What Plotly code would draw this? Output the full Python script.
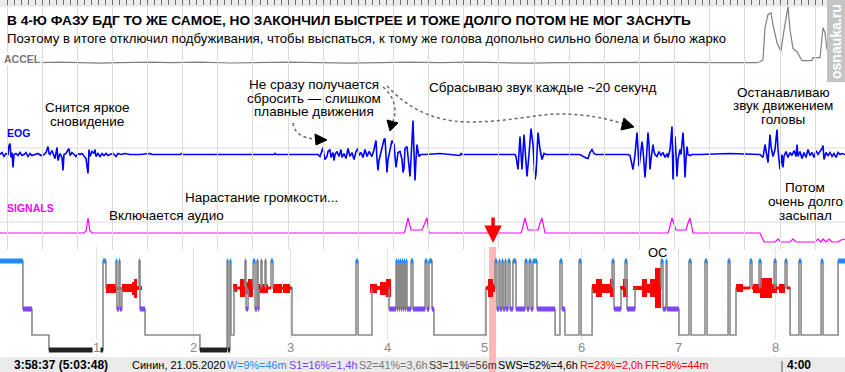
import plotly.graph_objects as go

W, H = 845, 372
FONT = "Liberation Sans, Arial, sans-serif"

# ================= DATA =================
# Top window: x in display samples (~7 samples per second)
accel_points = [(40, 0), (60, 0.5), (80, 0), (100, -0.5), (120, 0), (150, 0.5), (170, 0), (200, 0.5),
                (230, -0.3), (260, 0), (290, 0.5), (320, 0), (350, -0.5), (380, 0), (410, 0.5), (440, 0),
                (470, 0.5), (500, 0), (530, -0.4), (560, 0), (600, 0.3), (640, 0), (680, 0.4), (720, 0),
                (757, 0), (760, 1), (763, 3), (765, 35), (768, 48), (771, 50), (773, 38), (777, 20),
                (781, 11), (783, 26), (787, 53), (788, 56), (790, 33), (793, 14), (797, 11), (802, 2),
                (812, 2), (813, 5), (820, 5), (822, 26), (823, 35), (825, 30), (827, 13)]

eog_points = [
    (0, 0), (2, 2), (4, -2), (6, 1), (8, 0), (9, 9), (10, 11), (11, -3), (12, 2), (13, -13), (14, 0), (16, 1),
    (18, -1), (20, 2), (22, -1), (24, 0), (26, 2), (28, -2), (30, 1), (32, -1), (35, 0), (38, 1), (41, -1),
    (44, 0), (46, 2), (48, 8), (49, 1), (50, 0), (52, 4), (54, -2), (55, -4), (57, 7), (58, -6), (60, 1),
    (62, -3), (63, -16), (64, 0), (66, 1), (68, 5), (69, 6), (70, -1), (72, 2), (74, 0), (76, -2), (78, 1),
    (80, 0), (82, 1), (84, -1), (86, -4), (87, -12), (88, -19), (89, 5), (90, -2), (92, 3), (94, 1), (95, 5),
    (96, -2), (98, 1), (100, -2), (102, 1), (104, -1), (106, 1), (108, -1), (110, 0), (113, 1), (116, -2),
    (118, 1), (121, 0), (125, 1), (130, 0), (140, 0), (150, 1), (152, 0), (165, 0), (180, 0), (182, 1),
    (183, 0), (200, 0), (230, 0), (250, 0), (274, 0), (275, 1), (276, 0), (300, 0), (318, 0),
    (320, -2), (322, 5), (323, 7), (324, -1), (325, -5), (327, -2), (328, 3), (330, 5), (331, -3), (333, 2),
    (334, -6), (335, 0), (337, 3), (339, -2), (341, 5), (342, -3), (344, 1), (346, -4), (348, 6), (350, -2),
    (352, 2), (354, -5), (356, 3), (358, 6), (359, -1), (361, 2), (363, -3), (365, 5), (367, -2), (369, 3),
    (372, -2), (374, 5), (375, 11), (376, 14), (377, -5), (378, -16), (379, -6), (381, 3), (383, 9), (384, 15),
    (385, 16), (386, -10), (387, -18), (388, -5), (390, 5), (392, 14), (394, 10), (395, -8), (396, -13),
    (398, 2), (400, 3), (402, -5), (403, -18), (404, -14), (405, 6), (407, 8), (408, -3), (409, -16),
    (410, -22), (411, -5), (412, 12), (413, 34), (414, 2), (415, -26), (416, -5), (417, 10), (418, 3),
    (419, -2), (421, 0), (425, 0), (440, 1), (460, -1), (461, 1), (462, 0), (500, 0), (515, 0),
    (516, -2), (518, -15), (520, 18), (522, -15), (524, 20), (527, -22), (529, 0), (531, 26), (533, 10),
    (535, -25), (536, -20), (538, 22), (540, 5), (542, -5), (544, 1), (546, 0), (560, 0), (580, 0),
    (585, -3), (588, -4), (590, 2), (592, 5), (594, 1), (596, 0), (600, 0), (628, 0),
    (630, -1), (633, -15), (635, 0), (637, 22), (638, 5), (639, -12), (640, -5), (642, 13), (643, 5),
    (645, -23), (646, -10), (648, 22), (649, 10), (650, -15), (651, -5), (653, 10), (654, 3), (655, 0),
    (657, -2), (659, 3), (661, -1), (663, 2), (665, -3), (667, 1),
    (668, -3), (670, 5), (672, 28), (673, -25), (674, -5), (675, 18), (676, 0), (677, -22), (678, -5),
    (680, 5), (681, 0), (683, 22), (684, 5), (685, -23), (686, -5), (687, 8), (688, 0), (690, -1), (692, 0),
    (700, 0), (730, 1), (760, 0),
    (762, -2), (763, -3), (765, 10), (766, 2), (768, -8), (770, 20), (771, 8), (773, -2), (775, 5),
    (777, 25), (778, 5), (780, -15), (781, -8), (782, 0), (783, -13), (784, -2), (786, 3), (788, -3),
    (790, 2), (792, -1), (794, 4), (796, -2), (797, 10), (798, -2), (800, 3), (802, -4), (804, 2),
    (806, -3), (808, 5), (810, -1), (812, 2), (814, -3), (816, 4), (818, 0), (820, 3), (822, 6), (823, 9),
    (824, -5), (826, 2), (828, -1), (830, 2), (832, -2), (834, 1), (836, -3), (838, 2), (840, 0), (842, 1),
    (845, 0)]

signal_points = [(0, 0), (84, 0), (86, 2), (88, 15), (90, 2), (92, 0), (404, 0), (405, 2), (408, 15),
                 (411, 3), (422, 3), (424, 8), (427, 15), (429, 0), (521, 0), (522, 3), (525, 15), (528, 3),
                 (538, 3), (540, 10), (542, 15), (545, 0), (668, 0), (669, 3), (672, 15), (676, 3), (686, 3),
                 (688, 10), (690, 15), (693, 0), (760, 0), (764, -9), (775, -9), (778, -6), (781, -9),
                 (790, -9), (793, -6), (796, -9), (815, -9), (818, -6), (821, -9), (823, -6), (826, -9),
                 (829, -6), (832, -9), (838, -9), (841, -7), (845, -6)]

# Hypnogram: (start minute, stage)
hyp_stages = [
    (0.0, 'W'), (14.2, 'S1'), (19.8, 'S2'), (30.3, 'S3'), (63.8, 'W'), (65.6, 'R'), (71.8, 'W'), (72.4, 'S1'),
    (73.7, 'W'), (74.3, 'S1'), (75.5, 'R'), (86.1, 'W'), (86.7, 'S1'), (89.8, 'S2'), (123.8, 'S3'),
    (140.6, 'W'), (141.2, 'S3'), (142.4, 'W'), (143.0, 'S2'), (144.9, 'R'), (151.7, 'W'), (152.3, 'S1'),
    (153.6, 'R'), (156.7, 'W'), (157.9, 'S1'), (159.1, 'W'), (159.8, 'S1'), (160.4, 'R'), (161.6, 'W'),
    (162.2, 'R'), (164.1, 'W'), (164.7, 'R'), (167.8, 'W'), (169.0, 'R'), (180.8, 'S2'), (220.4, 'W'),
    (221.7, 'S2'), (230.3, 'R'), (240.9, 'S1'), (245.2, 'W'), (245.8, 'S1'), (246.4, 'W'), (247.1, 'S1'),
    (247.7, 'W'), (248.3, 'S1'), (248.9, 'W'), (249.5, 'S1'), (250.2, 'W'), (250.8, 'S1'), (251.4, 'W'),
    (252.0, 'S1'), (254.5, 'W'), (255.7, 'S1'), (263.2, 'W'), (264.4, 'S1'), (265.6, 'W'), (267.5, 'S1'),
    (268.7, 'S2'), (300.9, 'R'), (306.5, 'W'), (307.7, 'S1'), (309.0, 'W'), (309.6, 'S1'), (310.8, 'W'),
    (311.5, 'S1'), (312.7, 'W'), (313.3, 'S1'), (314.6, 'W'), (315.8, 'S1'), (317.6, 'W'), (319.5, 'S1'),
    (325.1, 'W'), (326.3, 'S1'), (327.6, 'W'), (328.8, 'S1'), (330.0, 'W'), (332.5, 'S1'), (343.7, 'S2'),
    (346.7, 'W'), (348.0, 'S1'), (349.8, 'S2'), (358.5, 'W'), (359.8, 'S2'), (366.6, 'R'), (379.0, 'W'),
    (380.2, 'S1'), (384.5, 'R'), (387.0, 'W'), (388.2, 'S1'), (393.2, 'R'), (409.3, 'W'), (410.5, 'S1'),
    (412.4, 'W'), (413.0, 'S1'), (420.4, 'S2'), (426.6, 'W'), (427.9, 'S2'), (436.5, 'W'), (437.8, 'S2'),
    (450.8, 'W'), (452.0, 'S2'), (455.7, 'R'), (464.4, 'W'), (465.6, 'R'), (470.0, 'W'), (471.2, 'R'),
    (479.3, 'W'), (480.5, 'R'), (486.1, 'W'), (487.3, 'R'), (489.2, 'S2'), (494.7, 'W'), (496.0, 'S2'),
    (508.4, 'W'), (509.6, 'S2'), (518.9, 'W')]
hyp_end = 523.2

# REM intensity blocks: (start min, end min, intensity)
rem_blocks = [
    (65.6, 72.4, 9), (72.4, 75.5, 3), (75.5, 81.7, 8), (81.7, 83.0, 13), (83.0, 84.8, 19), (84.8, 87.9, 4),
    (144.3, 146.7, 8), (148.6, 151.7, 18), (151.7, 153.6, 12), (153.6, 156.7, 18), (159.8, 165.9, 9),
    (169.0, 174.6, 9), (175.2, 179.6, 9),
    (229.1, 233.4, 9), (233.4, 235.3, 4), (235.3, 239.0, 13), (239.0, 242.1, 18),
    (300.9, 302.2, 4), (302.2, 305.3, 18), (305.3, 306.5, 8),
    (366.6, 369.0, 9), (369.0, 372.8, 18), (372.8, 377.7, 9), (377.7, 380.2, 18),
    (383.9, 385.8, 4), (385.8, 388.9, 18),
    (392.0, 397.5, 4), (397.5, 400.6, 18), (400.6, 402.5, 9), (402.5, 405.6, 18), (405.6, 409.3, 40),
    (455.7, 460.1, 8), (466.3, 470.6, 9), (470.6, 478.0, 20), (478.0, 481.1, 9), (482.4, 486.1, 9)]

hour_labels = [1, 2, 3, 4, 5, 6, 7, 8]
event_min = 305.3
event_band = (302.8, 307.1)

status_items = [("Синин, 21.05.2020", "#000000"), ("W=9%=46m", "#1e8cff"), ("S1=16%=1,4h", "#7a3cf0"),
                ("S2=41%=3,6h", "#777777"), ("S3=11%=56m", "#333333"), ("SWS=52%=4,6h", "#000000"),
                ("R=23%=2,0h", "#ff0000"), ("FR=8%=44m", "#ff0000")]
status_left = "3:58:37 (5:03:48)"
status_right = "4:00"

# ================= LAYOUT HELPERS =================
def px(x):
    return x / W


def py(y):
    return 1 - y / H


def dom(top, bottom):
    return [1 - bottom / H, 1 - top / H]


STAGE_LEVEL = {'W': 14, 'R': 41, 'S1': 62, 'S2': 88, 'S3': 103}
STAGE_STYLE = {'W': ('#1e8cff', 5), 'S1': ('#7f45ff', 5), 'S3': ('#222222', 5), 'R': ('#ff0000', 3)}

fig = go.Figure()

# dummy subplots: full-height top grid, and the ruler strip
fig.add_trace(go.Scatter(x=[0], y=[-5], mode='markers', xaxis='x2', yaxis='y5',
                         marker=dict(opacity=0), hoverinfo='skip'))
fig.add_trace(go.Scatter(x=[0], y=[-5], mode='markers', xaxis='x3', yaxis='y6',
                         marker=dict(opacity=0), hoverinfo='skip'))

fig.add_trace(go.Scatter(x=[p[0] for p in accel_points], y=[p[1] for p in accel_points],
                         mode='lines', line=dict(color='#808080', width=1.2), xaxis='x2', yaxis='y2'))
fig.add_trace(go.Scatter(x=[p[0] for p in eog_points], y=[p[1] for p in eog_points],
                         mode='lines', line=dict(color='#0000ff', width=1.6), xaxis='x2', yaxis='y3'))
fig.add_trace(go.Scatter(x=[p[0] for p in signal_points], y=[p[1] for p in signal_points],
                         mode='lines', line=dict(color='#ff00ff', width=1.2), xaxis='x2', yaxis='y4'))

# hypnogram step line
hx = [s[0] for s in hyp_stages] + [hyp_end]
hy = [STAGE_LEVEL[s[1]] for s in hyp_stages] + [STAGE_LEVEL[hyp_stages[-1][1]]]
fig.add_trace(go.Scatter(x=hx, y=hy, mode='lines', line=dict(color='#8a8a8a', width=1.6, shape='hv'),
                         xaxis='x', yaxis='y'))

# coloured stage bars
for stage, (color, width) in STAGE_STYLE.items():
    xs, ys = [], []
    for i, (t0, s) in enumerate(hyp_stages):
        if s != stage:
            continue
        t1 = hyp_stages[i + 1][0] if i + 1 < len(hyp_stages) else hyp_end
        xs += [t0, t1, None]
        ys += [STAGE_LEVEL[s], STAGE_LEVEL[s], None]
    fig.add_trace(go.Scatter(x=xs, y=ys, mode='lines', line=dict(color=color, width=width),
                             xaxis='x', yaxis='y'))

# REM intensity blocks
fig.add_trace(go.Bar(x=[(a + b) / 2 for a, b, h in rem_blocks], width=[b - a for a, b, h in rem_blocks],
                     y=[h for a, b, h in rem_blocks], base=[STAGE_LEVEL['R'] - h / 2 for a, b, h in rem_blocks],
                     marker=dict(color='#ff0000', line=dict(width=0)), xaxis='x', yaxis='y'))

# ================= SHAPES =================
shapes = []
shapes.append(dict(type='rect', xref='paper', yref='paper', x0=0, x1=1, y0=py(7), y1=1,
                   fillcolor='#ebebeb', line=dict(width=0), layer='below'))
for yy in (148, 222):
    shapes.append(dict(type='line', xref='paper', yref='paper', x0=0, x1=1, y0=py(yy), y1=py(yy),
                       line=dict(color='#dcdcdc', width=1), layer='below'))
shapes.append(dict(type='rect', xref='paper', yref='paper', x0=0, x1=1, y0=0, y1=py(357),
                   fillcolor='#ebebeb', line=dict(width=0), layer='below'))
shapes.append(dict(type='line', xref='paper', yref='paper', x0=px(782), x1=px(782), y0=0, y1=py(361),
                   line=dict(color='#555555', width=1), layer='above'))
shapes.append(dict(type='rect', xref='x', yref='paper', x0=event_band[0], x1=event_band[1], y0=0, y1=py(247),
                   fillcolor='#ffb8b8', line=dict(width=0), layer='below'))
shapes.append(dict(type='rect', xref='paper', yref='paper', x0=px(827), x1=1, y0=py(82), y1=1,
                   fillcolor='#c4c4c4', line=dict(width=0), layer='above'))


def P(x, y):
    return f"{px(x):.5f},{py(y):.5f}"


curves = [
    f"M {P(293,123)} Q {P(295,138)} {P(316,139)}",
    f"M {P(383,87)} C {P(393,95)} {P(398,108)} {P(393,121)}",
    f"M {P(387,86)} C {P(405,105)} {P(430,122)} {P(470,122)} C {P(510,122)} {P(540,113)} {P(565,114)} "
    f"C {P(590,115)} {P(605,118)} {P(624,124)}",
]
for c in curves:
    shapes.append(dict(type='path', xref='paper', yref='paper', path=c,
                       line=dict(color='#666666', width=1.5, dash='dot'), layer='above'))
heads = [
    [(315, 134), (316, 145), (327, 140)],
    [(387, 120), (398, 123), (390, 131)],
    [(624, 118), (621, 130), (634, 127)],
]
for tri in heads:
    path = "M " + " L ".join(P(*p) for p in tri) + " Z"
    shapes.append(dict(type='path', xref='paper', yref='paper', path=path, fillcolor='black',
                       line=dict(color='black', width=1), layer='above'))

# ================= ANNOTATIONS =================
ann = []


def txt(x, y, s, size=13.5, color='black', xanchor='center', bg=None, angle=0):
    d = dict(x=px(x), y=py(y), xref='paper', yref='paper', text=s, showarrow=False, xanchor=xanchor,
             yanchor='middle', font=dict(family=FONT, size=size, color=color), textangle=angle)
    if bg:
        d.update(bgcolor=bg, borderpad=0)
    ann.append(d)


def block(xc, ytop, lines, step=14, size=13.5, color='black'):
    for i, line in enumerate(lines):
        txt(xc, ytop + i * step, line, size=size, color=color)


txt(5, 21, "<b>В 4-Ю ФАЗУ БДГ ТО ЖЕ САМОЕ, НО ЗАКОНЧИЛ БЫСТРЕЕ И ТОЖЕ ДОЛГО ПОТОМ НЕ МОГ ЗАСНУТЬ</b>",
    size=13.7, xanchor='left')
txt(5, 38, "Поэтому в итоге отключил подбуживания, чтобы выспаться, к тому же голова допольно сильно болела и было жарко",
    size=13.2, xanchor='left')
txt(3, 59, "<b>ACCEL</b>", size=10.5, color='#777777', xanchor='left', bg='white')
txt(5, 133, "<b>EOG</b>", size=10.5, color='#0000ff', xanchor='left')
txt(5, 208, "<b>SIGNALS</b>", size=10.5, color='#ff00ff', xanchor='left')
txt(836, 42, "<b>osnauka.ru</b>", size=14, color='white', angle=-90)

block(87, 108, ["Снится яркое", "сновидение"])
block(314, 84, ["Не сразу получается", "сбросить — слишком", "плавные движения"])
txt(543, 87, "Сбрасываю звук каждые ~20 секунд")
block(783, 92, ["Останавливаю", "звук движением", "головы"])
block(805, 187, ["Потом", "очень долго", "засыпал"])
txt(183, 197, "Нарастание громкости...", xanchor='left')
txt(107, 215, "Включается аудио", xanchor='left')
txt(658, 253, "ОС", size=13)

for h in hour_labels:
    ann.append(dict(x=60 * h, y=py(347), xref='x', yref='paper', text=str(h), showarrow=False,
                    xanchor='center', yanchor='middle', bgcolor='white', borderpad=0,
                    font=dict(family=FONT, size=13, color='#8a8a8a')))

ann.append(dict(x=event_min, y=py(243), xref='x', yref='paper', text='', showarrow=True, ax=0, ay=-27,
                arrowcolor='#ff0000', arrowwidth=3.5, arrowhead=2, arrowsize=1))

txt(12, 365, f"<b>{status_left}</b>", size=12, xanchor='left')
status_x = [130, 225, 287, 357, 427, 496, 578, 643]
for (s, c), x0 in zip(status_items, status_x):
    txt(x0, 365, s, size=11 if x0 == 130 else 10.8, color=c, xanchor='left')
txt(785, 365, f"<b>{status_right}</b>", size=12, xanchor='left')

# ================= AXES =================
fig.update_layout(
    width=W, height=H, margin=dict(l=0, r=0, t=0, b=0),
    paper_bgcolor='white', plot_bgcolor='rgba(0,0,0,0)', showlegend=False, hovermode=False,
    bargap=0,
    xaxis=dict(domain=[0, 1], range=[0, hyp_end], anchor='y', showgrid=True, gridcolor='#e3e3e3',
               tick0=0, dtick=60, showticklabels=False, ticks='', zeroline=False, showline=False),
    yaxis=dict(domain=dom(247, 357), range=[110, 0], visible=False),
    xaxis2=dict(domain=[0, 1], range=[0, 845], anchor='y5', showgrid=True, gridcolor='#dcdcdc',
                tick0=7, dtick=35.14, ticks='', showticklabels=False, zeroline=False, showline=False),
    xaxis3=dict(domain=[0, 1], range=[0, 845], anchor='y6', showgrid=True, gridcolor='#6e6e6e',
                gridwidth=1, tick0=7, dtick=7.028, ticks='', showticklabels=False, zeroline=False,
                showline=False),
    yaxis2=dict(domain=dom(0, 75), range=[-12.3, 62.7], visible=False, anchor='x2'),
    yaxis3=dict(domain=dom(95, 215), range=[-60.5, 59.5], visible=False, anchor='x2'),
    yaxis4=dict(domain=dom(190, 250), range=[-17, 43], visible=False, anchor='x2'),
    yaxis5=dict(domain=dom(5, 246), range=[0, 1], visible=False, anchor='x2'),
    yaxis6=dict(domain=dom(0, 5), range=[0, 1], visible=False, anchor='x3'),
    shapes=shapes, annotations=ann,
)

fig.write_html("out.html", config={'displayModeBar': False},
               post_script="document.body.style.margin='0';document.body.style.overflow='hidden';")
